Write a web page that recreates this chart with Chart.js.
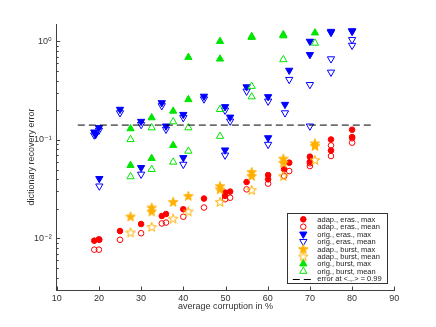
<!DOCTYPE html>
<html>
<head>
<meta charset="utf-8">
<script src="https://cdn.jsdelivr.net/npm/chart.js@4/dist/chart.umd.min.js"></script>
<style>
html,body{margin:0;padding:0;background:#fff;}
#wrap{width:436px;height:327px;}
</style>
</head>
<body>
<div id="wrap"><canvas id="c" width="436" height="327"></canvas></div>
<script>
// ---- data (x = average corruption in %, y = dictionary recovery error) ----
const adapErasMax = [[18.9,0.0095],[20.0,0.0098],[20.1,0.0097],[25.0,0.0119],[30.0,0.0140],[34.9,0.0169],[35.9,0.0177],[40.0,0.0198],[44.9,0.0254],[49.9,0.0292],[49.9,0.0271],[51.1,0.0299],[55.0,0.0374],[60.1,0.044],[60.1,0.0398],[63.9,0.0503],[65.1,0.0588],[70.0,0.0676],[70.0,0.060],[75.0,0.101],[75.0,0.078],[80.0,0.127],[80.0,0.107]];
const adapErasMean = [[18.9,0.0077],[20.0,0.0077],[25.0,0.0097],[30.0,0.0113],[34.9,0.0142],[35.9,0.0145],[40.0,0.0166],[44.9,0.0206],[49.9,0.025],[51.1,0.0259],[55.0,0.0315],[60.1,0.036],[63.9,0.043],[65.1,0.0483],[70.0,0.0543],[70.0,0.058],[75.0,0.088],[75.0,0.0686],[80.0,0.0937],[80.0,0.104]];
const origErasMax = [[18.9,0.12],[19.2,0.113],[20.0,0.133],[20.1,0.0405],[25.0,0.204],[30.0,0.154],[30.0,0.0523],[34.9,0.238],[35.9,0.138],[40.0,0.181],[40.0,0.066],[44.9,0.277],[49.9,0.217],[49.9,0.0789],[51.1,0.17],[55.0,0.345],[60.1,0.274],[60.1,0.105],[64.1,0.229],[65.1,0.508],[70.0,1.0],[70.0,0.733],[75.0,1.23],[75.0,1.26],[80.0,1.28],[80.0,1.26]];
const origErasMean = [[18.9,0.112],[20.0,0.125],[20.1,0.034],[25.0,0.188],[30.0,0.143],[30.0,0.0448],[34.9,0.222],[35.9,0.128],[40.0,0.168],[40.0,0.0565],[44.9,0.26],[49.9,0.2],[49.9,0.07],[51.1,0.155],[55.0,0.312],[60.1,0.247],[60.1,0.09],[64.1,0.188],[65.1,0.41],[70.0,0.364],[70.0,0.138],[75.0,0.664],[75.0,0.486],[80.0,1.04],[80.0,0.91]];
const adapBurstMax = [[27.5,0.0167],[32.5,0.0206],[32.5,0.0188],[37.6,0.0235],[41.2,0.027],[48.7,0.034],[48.7,0.0315],[56.2,0.0472],[56.2,0.0431],[63.7,0.0645],[63.7,0.0588],[71.2,0.0922],[71.2,0.0868]];
const adapBurstMean = [[27.5,0.0115],[32.5,0.0131],[37.6,0.0159],[41.2,0.0188],[48.7,0.0235],[56.2,0.031],[63.7,0.043],[71.2,0.0625]];
const origBurstMax = [[27.5,0.13],[27.5,0.0552],[32.5,0.168],[32.5,0.065],[37.6,0.196],[37.6,0.0879],[41.2,0.689],[41.2,0.257],[48.7,1.0],[48.7,0.663],[56.2,1.12],[56.2,1.10],[63.7,1.17],[63.7,1.14],[71.2,1.22]];
const origBurstMean = [[27.5,0.101],[27.5,0.0424],[32.5,0.133],[32.5,0.0503],[37.6,0.153],[37.6,0.0596],[41.2,0.133],[41.2,0.077],[48.7,0.204],[48.7,0.109],[56.2,0.35],[56.2,0.274],[63.7,0.653],[71.2,0.96]];
const errorLevel = 0.1414;
const errorSpan = [15, 85];

const seriesLabels = ['adap., eras., max','adap., eras., mean','orig., eras., max','orig., eras., mean','adap., burst, max','adap., burst, mean','orig., burst, max','orig., burst, mean','error at <.,.> = 0.99'];
const xTickValues = [10,20,30,40,50,60,70,80,90];
const yTickValues = [0.01,0.1,1];
const yTickLabels = ['10\u207B\u00B2','10\u207B\u00B9','10\u2070'];
const xRange = [10, 90];
const yRange = [0.003, 1.5];

// ---- styles ----
const RED = '#ff0000', BLUE = '#0000ff', ORANGE = '#ffb000', GREEN = '#00e600';
const FONT = "'Liberation Sans', 'DejaVu Sans', Arial, sans-serif";
const TXT = '#333333';

function makeStar(color, filled) {
  const c = document.createElement('canvas');
  const s = 12; c.width = s; c.height = s;
  const g = c.getContext('2d');
  const cx = s/2, cy = s/2 + 0.4, ro = 5.0, ri = 2.0;
  g.beginPath();
  for (let i = 0; i < 10; i++) {
    const r = i % 2 ? ri : ro;
    const a = -Math.PI/2 + i*Math.PI/5;
    const px = cx + r*Math.cos(a), py = cy + r*Math.sin(a);
    if (i === 0) g.moveTo(px, py); else g.lineTo(px, py);
  }
  g.closePath();
  g.lineWidth = 1;
  g.strokeStyle = color;
  if (filled) { g.fillStyle = color; g.fill(); }
  g.stroke();
  return c;
}
const starFilled = makeStar(ORANGE, true);
const starHollow = makeStar(ORANGE, false);

function pts(arr) { return arr.map(p => ({x: p[0], y: p[1]})); }
function ds(label, data, color, style, filled, rotation, radius) {
  return {
    type: 'scatter', label, data: pts(data),
    pointStyle: style, rotation: rotation || 0,
    pointRadius: radius, pointHoverRadius: radius,
    borderColor: color, backgroundColor: filled ? color : 'rgba(0,0,0,0)',
    pointBorderWidth: 1, borderWidth: 1, showLine: false
  };
}

const datasets = [
  ds(seriesLabels[0], adapErasMax, RED, 'circle', true, 0, 2.8),
  ds(seriesLabels[1], adapErasMean, RED, 'circle', false, 0, 2.8),
  ds(seriesLabels[2], origErasMax, BLUE, 'triangle', true, 180, 4.2),
  ds(seriesLabels[3], origErasMean, BLUE, 'triangle', false, 180, 4.2),
  ds(seriesLabels[4], adapBurstMax, ORANGE, starFilled, true, 0, 5),
  ds(seriesLabels[5], adapBurstMean, ORANGE, starHollow, false, 0, 5),
  ds(seriesLabels[6], origBurstMax, GREEN, 'triangle', true, 0, 4.2),
  ds(seriesLabels[7], origBurstMean, GREEN, 'triangle', false, 0, 4.2),
  {
    type: 'line', label: seriesLabels[8],
    data: [{x: errorSpan[0], y: errorLevel}, {x: errorSpan[1], y: errorLevel}],
    borderColor: '#000', borderWidth: 1, borderDash: [7, 4],
    pointRadius: 0, fill: false
  }
];
datasets.forEach((d, i) => { d.order = 20 - i; });

// inward tick marks
const tickPlugin = {
  id: 'inTicks',
  afterDraw(chart) {
    const ctx = chart.ctx, a = chart.chartArea;
    const xs = chart.scales.x, ys = chart.scales.y;
    ctx.save();
    ctx.strokeStyle = '#404040';
    ctx.lineWidth = 1;
    ctx.beginPath();
    xTickValues.forEach(v => {
      const px = Math.round(xs.getPixelForValue(v)) + 0.5;
      ctx.moveTo(px, a.bottom); ctx.lineTo(px, a.bottom - 3.5);
    });
    const lo = Math.floor(Math.log10(yRange[0])), hi = Math.ceil(Math.log10(yRange[1]));
    for (let e = lo; e <= hi; e++) {
      for (let k = 1; k <= 9; k++) {
        const v = k * Math.pow(10, e);
        if (v < yRange[0] || v > yRange[1]) continue;
        const py = Math.round(ys.getPixelForValue(v)) + 0.5;
        const len = k === 1 ? 3.5 : 2;
        ctx.moveTo(a.left, py); ctx.lineTo(a.left + len, py);
      }
    }
    ctx.stroke();
    ctx.restore();
  }
};

// legend inside the axes, lower right
const legendPlugin = {
  id: 'boxLegend',
  afterDraw(chart) {
    const ctx = chart.ctx, a = chart.chartArea;
    const w = 100, h = 70;
    const L = a.right - 7 - w, T = a.bottom - 7 - h;
    ctx.save();
    ctx.fillStyle = '#fff';
    ctx.fillRect(L, T, w, h);
    ctx.strokeStyle = '#333';
    ctx.lineWidth = 1;
    ctx.strokeRect(Math.round(L) + 0.5, Math.round(T) + 0.5, w, h);
    const step = 7.42;
    ctx.font = '7.5px ' + FONT;
    ctx.textBaseline = 'middle';
    ctx.textAlign = 'left';
    chart.data.datasets.forEach((d, i) => {
      const cy = T + 6.3 + i * step;
      const mx = L + 16;
      if (d.type === 'line') {
        ctx.save();
        ctx.strokeStyle = d.borderColor;
        ctx.setLineDash(d.borderDash);
        ctx.beginPath();
        ctx.moveTo(L + 5.5, Math.round(cy) + 0.5);
        ctx.lineTo(L + 25, Math.round(cy) + 0.5);
        ctx.stroke();
        ctx.restore();
      } else {
        ctx.fillStyle = d.backgroundColor;
        ctx.strokeStyle = d.borderColor;
        ctx.lineWidth = 1;
        Chart.helpers.drawPoint(ctx, {
          pointStyle: d.pointStyle, rotation: d.rotation,
          radius: d.pointRadius, borderWidth: 1
        }, mx, cy);
      }
      ctx.fillStyle = '#222';
      ctx.fillText(d.label, L + 30, cy + 0.5);
    });
    ctx.restore();
  }
};

new Chart(document.getElementById('c'), {
  type: 'scatter',
  data: { datasets },
  options: {
    responsive: false,
    animation: false,
    events: [],
    layout: { padding: { left: 26, right: 41.7, top: 24, bottom: 15 } },
    plugins: { legend: { display: false }, tooltip: { enabled: false } },
    scales: {
      x: {
        type: 'linear', min: xRange[0], max: xRange[1],
        afterBuildTicks: s => { s.ticks = xTickValues.map(v => ({value: v})); },
        afterFit: s => { s.height = 22; },
        grid: { display: false, drawTicks: false },
        border: { display: true, color: '#404040', width: 1 },
        ticks: { color: TXT, font: { size: 9, family: FONT }, padding: 3, maxRotation: 0, autoSkip: false },
        title: { display: true, text: 'average corruption in %', color: TXT, font: { size: 9, family: FONT }, padding: 0 }
      },
      y: {
        type: 'logarithmic', min: yRange[0], max: yRange[1],
        afterBuildTicks: s => { s.ticks = yTickValues.map(v => ({value: v})); },
        afterFit: s => { s.width = 30.7; },
        grid: { display: false, drawTicks: false },
        border: { display: true, color: '#404040', width: 1 },
        ticks: {
          color: TXT, font: { size: 9, family: FONT }, padding: 5, autoSkip: false,
          callback: (v) => { const i = yTickValues.indexOf(v); return i >= 0 ? yTickLabels[i] : ''; }
        },
        title: { display: true, text: 'dictionary recovery error', color: TXT, font: { size: 9, family: FONT }, padding: 0 }
      }
    }
  },
  plugins: [tickPlugin, legendPlugin]
});
</script>
</body>
</html>
